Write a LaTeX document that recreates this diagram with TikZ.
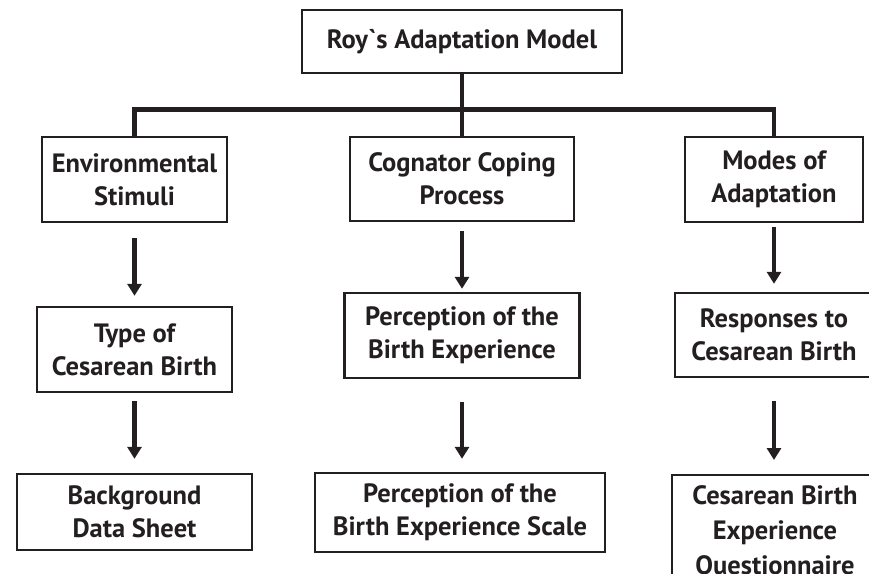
\documentclass[tikz,border=0pt]{standalone}
\usepackage{fontspec}
\setmainfont{PT Sans}
\usetikzlibrary{arrows.meta,calc}
\definecolor{ink}{HTML}{231F20}
\begin{document}
\begin{tikzpicture}[x=1pt,y=-1pt,
  box/.style={draw=ink,line width=2.4pt,rectangle,inner sep=0pt,align=center,
    text=ink,font=\fontsize{26.5}{33}\selectfont\bfseries},
  link/.style={draw=ink,line width=4.5pt},
  arr/.style={draw=ink,line width=4.5pt,-{Triangle[width=14pt,length=12pt]}}]
\useasboundingbox (0,0) rectangle (869,573);
\clip (0,0) rectangle (869,573);
\node[box,minimum width=320pt,minimum height=63pt] (top) at (462,41.5) {Roy\textasciigrave s Adaptation Model};
\node[box,minimum width=185pt,minimum height=85pt] (env) at (134.5,179.5) {Environmental\\Stimuli};
\node[box,minimum width=224pt,minimum height=84pt] (cog) at (462,179) {Cognator Coping\\Process};
\node[box,minimum width=178pt,minimum height=85pt] (modes) at (774,179.5) {Modes of\\Adaptation};
\node[box,minimum width=195pt,minimum height=85pt] (type) at (134.5,349.5) {Type of\\Cesarean Birth};
\node[box,minimum width=235pt,minimum height=85pt] (perc) at (462,335.5) {Perception of the\\Birth Experience};
\node[box,minimum width=198pt,minimum height=84pt] (resp) at (774,335) {Responses to\\Cesarean Birth};
\node[box,minimum width=235pt,minimum height=76pt] (bg) at (134.5,512) {Background\\Data Sheet};
\node[box,minimum width=290pt,minimum height=79pt] (scale) at (460,512.5) {Perception of the\\Birth Experience Scale};
\node[box,minimum width=206pt,anchor=north,inner ysep=10pt,
  font=\fontsize{26.5}{35}\selectfont\bfseries] (quest) at (775,474) {Cesarean Birth\\Experience\\Questionnaire\\[-8pt]};
\coordinate (bar) at (462,109.5);
\draw[link] (top.south) -- (top.south |- bar);
\draw[link,line join=miter] (env.north) -- (env.north |- bar) -- (modes.north |- bar) -- (modes.north);
\draw[link] (cog.north) -- (cog.north |- bar);
\draw[arr,shorten <=15pt,shorten >=10pt] (env.south) -- (env.south |- type.north);
\draw[arr,shorten <=9pt,shorten >=3pt] (cog.south) -- (cog.south |- perc.north);
\draw[arr,shorten <=4pt,shorten >=8pt] (modes.south) -- (modes.south |- resp.north);
\draw[arr,shorten <=8pt,shorten >=14pt] (type.south) -- (type.south |- bg.north);
\draw[arr,shorten <=23pt,shorten >=13pt] (perc.south) -- (perc.south |- scale.north);
\draw[arr,shorten <=23pt,shorten >=14pt] (resp.south) -- (resp.south |- quest.north);
\end{tikzpicture}
\end{document}
